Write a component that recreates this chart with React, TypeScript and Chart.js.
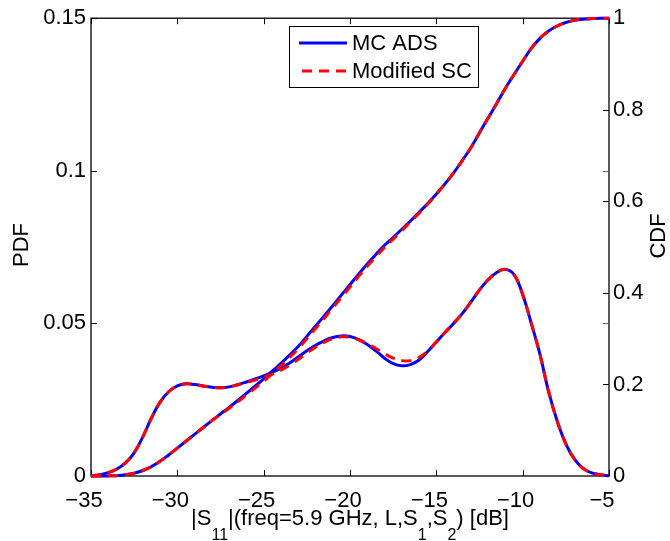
import React, { useEffect, useRef } from 'react';
import { Chart, registerables } from 'chart.js';

Chart.register(...registerables);

const FONT = '"Liberation Sans", Arial, Helvetica, sans-serif';

const xValues = [
  -35, -34.5, -34, -33.5, -33, -32.5, -32, -31.5, -31, -30.5,
  -30, -29.5, -29, -28.5, -28, -27.5, -27, -26.5, -26, -25.5,
  -25, -24.5, -24, -23.5, -23, -22.5, -22, -21.5, -21, -20.5,
  -20, -19.5, -19, -18.5, -18, -17.5, -17, -16.5, -16, -15.5,
  -15, -14.5, -14, -13.5, -13, -12.5, -12, -11.5, -11, -10.5,
  -10, -9.5, -9, -8.5, -8, -7.5, -7, -6.5, -6, -5.5, -5,
];

const pdfMcAds = [
  0.0000, 0.0004, 0.0011, 0.0023, 0.0043, 0.0076, 0.0128, 0.0190, 0.0242, 0.0276,
  0.0295, 0.0302, 0.0300, 0.0295, 0.0291, 0.0289, 0.0292, 0.0299, 0.0308, 0.0318,
  0.0328, 0.0340, 0.0353, 0.0370, 0.0390, 0.0410, 0.0428, 0.0443, 0.0454, 0.0459,
  0.0457, 0.0447, 0.0431, 0.0410, 0.0386, 0.0368, 0.0361, 0.0365, 0.0380, 0.0408,
  0.0439, 0.0470, 0.0500, 0.0532, 0.0570, 0.0610, 0.0643, 0.0667, 0.0677, 0.0660,
  0.0595, 0.0500, 0.0399, 0.0277, 0.0180, 0.0105, 0.0055, 0.0025, 0.0010, 0.0004, 0.0001,
];

const pdfModSc = [
  0.0000, 0.0004, 0.0011, 0.0023, 0.0043, 0.0076, 0.0128, 0.0190, 0.0242, 0.0276,
  0.0295, 0.0302, 0.0300, 0.0295, 0.0291, 0.0289, 0.0292, 0.0299, 0.0306, 0.0314,
  0.0323, 0.0334, 0.0347, 0.0363, 0.0382, 0.0403, 0.0422, 0.0438, 0.0450, 0.0456,
  0.0455, 0.0447, 0.0434, 0.0418, 0.0401, 0.0386, 0.0378, 0.0378, 0.0388, 0.0410,
  0.0439, 0.0470, 0.0500, 0.0532, 0.0570, 0.0610, 0.0643, 0.0667, 0.0677, 0.0660,
  0.0595, 0.0500, 0.0399, 0.0277, 0.0180, 0.0105, 0.0055, 0.0025, 0.0010, 0.0004, 0.0001,
];

const cdfMcAds = [
  0.0000, 0.0000, 0.0002, 0.0008, 0.0025, 0.0060, 0.0120, 0.0205, 0.0320, 0.0460,
  0.0610, 0.0760, 0.0910, 0.1060, 0.1210, 0.1355, 0.1500, 0.1650, 0.1805, 0.1960,
  0.2120, 0.2290, 0.2460, 0.2640, 0.2830, 0.3050, 0.3270, 0.3495, 0.3720, 0.3950,
  0.4180, 0.4410, 0.4630, 0.4840, 0.5040, 0.5210, 0.5390, 0.5570, 0.5760, 0.5950,
  0.6160, 0.6380, 0.6620, 0.6890, 0.7170, 0.7500, 0.7820, 0.8140, 0.8470, 0.8770,
  0.9060, 0.9340, 0.9560, 0.9720, 0.9830, 0.9905, 0.9952, 0.9978, 0.9991, 0.9998, 1.0000,
];

const cdfModSc = [
  0.0000, 0.0000, 0.0002, 0.0008, 0.0025, 0.0060, 0.0120, 0.0205, 0.0320, 0.0460,
  0.0610, 0.0760, 0.0910, 0.1060, 0.1210, 0.1345, 0.1480, 0.1620, 0.1770, 0.1920,
  0.2070, 0.2240, 0.2410, 0.2590, 0.2780, 0.3000, 0.3220, 0.3440, 0.3670, 0.3900,
  0.4130, 0.4360, 0.4580, 0.4790, 0.4995, 0.5175, 0.5360, 0.5550, 0.5740, 0.5940,
  0.6150, 0.6380, 0.6620, 0.6890, 0.7170, 0.7500, 0.7820, 0.8140, 0.8470, 0.8770,
  0.9060, 0.9340, 0.9560, 0.9720, 0.9830, 0.9905, 0.9952, 0.9978, 0.9991, 0.9998, 1.0000,
];

const seriesNames = ['MC ADS', 'Modified SC'];
const xTickValues = [-35, -30, -25, -20, -15, -10, -5];
const pdfTickValues = [0, 0.05, 0.1, 0.15];
const pdfTickLabels = ['0', '0.05', '0.1', '0.15'];
const cdfTickValues = [0, 0.2, 0.4, 0.6, 0.8, 1];
const cdfTickLabels = ['0', '0.2', '0.4', '0.6', '0.8', '1'];
const leftAxisTitle = 'PDF';
const rightAxisTitle = 'CDF';
// x title pieces: [text, isSubscript]
const xTitlePieces: [string, boolean][] = [
  ['|S', false], ['11', true], ['|(freq=5.9 GHz, L,S', false], ['1', true],
  [',S', false], ['2', true], [') [dB]', false],
];

const BLUE = '#0000ff';
const RED = '#ff0000';
const DASH = [10, 7];

const fmtX = (v: number) => String(v).replace('-', '\u2212');

const decorPlugin = {
  id: 'decor',
  beforeDatasetsDraw(chart: any) {
    const { ctx, chartArea, scales } = chart;
    const { left, right, top, bottom } = chartArea;
    ctx.save();
    ctx.strokeStyle = '#000';
    ctx.lineWidth = 1.3;
    ctx.strokeRect(left, top, right - left, bottom - top);
    const TL = 6;
    ctx.lineWidth = 1;
    ctx.beginPath();
    xTickValues.forEach((v) => {
      const px = Math.round(scales.x.getPixelForValue(v)) + 0.5;
      ctx.moveTo(px, bottom);
      ctx.lineTo(px, bottom - TL);
      ctx.moveTo(px, top);
      ctx.lineTo(px, top + TL);
    });
    pdfTickValues.forEach((v) => {
      const py = Math.round(scales.yPdf.getPixelForValue(v)) + 0.5;
      ctx.moveTo(left, py);
      ctx.lineTo(left + TL, py);
    });
    cdfTickValues.forEach((v) => {
      const py = Math.round(scales.yCdf.getPixelForValue(v)) + 0.5;
      ctx.moveTo(right, py);
      ctx.lineTo(right - TL, py);
    });
    ctx.stroke();
    ctx.strokeStyle = '#666';
    ctx.beginPath();
    pdfTickValues.forEach((v) => {
      const py = Math.round(scales.yPdf.getPixelForValue(v)) + 0.5;
      ctx.moveTo(right, py);
      ctx.lineTo(right - TL, py);
    });
    ctx.stroke();
    ctx.restore();
  },
  afterDatasetsDraw(chart: any) {
    const { ctx, chartArea } = chart;
    ctx.save();
    // legend
    const lx = 289, ly = 26, lw = 189, lh = 61;
    ctx.fillStyle = '#fff';
    ctx.fillRect(lx, ly, lw, lh);
    ctx.strokeStyle = '#000';
    ctx.lineWidth = 1;
    ctx.strokeRect(lx + 0.5, ly + 0.5, lw, lh);
    const rows = [43, 71];
    ctx.lineWidth = 3;
    ctx.strokeStyle = BLUE;
    ctx.beginPath();
    ctx.moveTo(299, rows[0]);
    ctx.lineTo(347, rows[0]);
    ctx.stroke();
    ctx.strokeStyle = RED;
    ctx.setLineDash(DASH);
    ctx.lineDashOffset = -3;
    ctx.beginPath();
    ctx.moveTo(299, rows[1]);
    ctx.lineTo(347, rows[1]);
    ctx.stroke();
    ctx.setLineDash([]);
    ctx.fillStyle = '#000';
    ctx.font = `22px ${FONT}`;
    ctx.textAlign = 'left';
    ctx.textBaseline = 'middle';
    ctx.fillText(seriesNames[0], 352, rows[0] + 1);
    ctx.fillText(seriesNames[1], 352, rows[1] + 1);

    // y axis titles
    ctx.textAlign = 'center';
    ctx.save();
    ctx.translate(22, 245);
    ctx.rotate(-Math.PI / 2);
    ctx.fillText(leftAxisTitle, 0, 0);
    ctx.restore();
    ctx.save();
    ctx.translate(659, 236);
    ctx.rotate(-Math.PI / 2);
    ctx.fillText(rightAxisTitle, 0, 0);
    ctx.restore();

    // x axis title with subscripts
    const mainFont = `22px ${FONT}`;
    const subFont = `16px ${FONT}`;
    let total = 0;
    const widths = xTitlePieces.map(([t, sub]) => {
      ctx.font = sub ? subFont : mainFont;
      const w = ctx.measureText(t).width;
      total += w;
      return w;
    });
    const cx = (chartArea.left + chartArea.right) / 2;
    let x = cx - total / 2;
    const base = 525;
    ctx.textAlign = 'left';
    ctx.textBaseline = 'alphabetic';
    xTitlePieces.forEach(([t, sub], i) => {
      ctx.font = sub ? subFont : mainFont;
      ctx.fillText(t, x, sub ? base + 15 : base);
      x += widths[i];
    });
    ctx.restore();
  },
};

export default function App() {
  const ref = useRef<HTMLCanvasElement>(null);
  useEffect(() => {
    document.body.style.margin = '0';
    const mk = (ys: number[]) => xValues.map((x, i) => ({ x, y: ys[i] }));
    const common = {
      pointRadius: 0,
      borderWidth: 3,
      fill: false,
      tension: 0.4,
      clip: 6,
    };
    const chart = new Chart(ref.current as HTMLCanvasElement, {
      type: 'line',
      data: {
        datasets: [
          { ...common, label: seriesNames[0], data: mk(pdfMcAds), yAxisID: 'yPdf', borderColor: BLUE, order: 2 },
          { ...common, label: seriesNames[0], data: mk(cdfMcAds), yAxisID: 'yCdf', borderColor: BLUE, order: 2 },
          { ...common, label: seriesNames[1], data: mk(pdfModSc), yAxisID: 'yPdf', borderColor: RED, borderDash: DASH, order: 1 },
          { ...common, label: seriesNames[1], data: mk(cdfModSc), yAxisID: 'yCdf', borderColor: RED, borderDash: DASH, order: 1 },
        ],
      },
      options: {
        responsive: false,
        maintainAspectRatio: false,
        animation: false,
        devicePixelRatio: 1,
        layout: { padding: { top: 15, left: 0, right: 0, bottom: 0 } },
        plugins: { legend: { display: false }, tooltip: { enabled: false } },
        scales: {
          x: {
            type: 'linear',
            position: 'bottom',
            min: -35,
            max: -5,
            grid: { display: false, drawTicks: false },
            border: { display: false },
            afterBuildTicks: (s: any) => { s.ticks = xTickValues.map((v) => ({ value: v })); },
            afterFit: (s: any) => { s.height = 65; },
            ticks: {
              color: '#000',
              font: { family: FONT, size: 22 },
              padding: 12,
              labelOffset: -7,
              maxRotation: 0,
              autoSkip: false,
              callback: (v: any) => fmtX(Number(v)),
            },
          },
          yPdf: {
            type: 'linear',
            position: 'left',
            min: 0,
            max: 0.15,
            grid: { display: false, drawTicks: false },
            border: { display: false },
            afterBuildTicks: (s: any) => { s.ticks = pdfTickValues.map((v) => ({ value: v })); },
            afterFit: (s: any) => { s.width = 91; },
            ticks: {
              color: '#000',
              font: { family: FONT, size: 22 },
              padding: 5,
              autoSkip: false,
              callback: (_v: any, i: number) => pdfTickLabels[i],
            },
          },
          yCdf: {
            type: 'linear',
            position: 'right',
            min: 0,
            max: 1,
            grid: { display: false, drawTicks: false },
            border: { display: false },
            afterBuildTicks: (s: any) => { s.ticks = cdfTickValues.map((v) => ({ value: v })); },
            afterFit: (s: any) => { s.width = 61; },
            ticks: {
              color: '#000',
              font: { family: FONT, size: 22 },
              padding: 4,
              autoSkip: false,
              callback: (_v: any, i: number) => cdfTickLabels[i],
            },
          },
        },
      },
      plugins: [decorPlugin],
    });
    return () => chart.destroy();
  }, []);
  return (
    <div style={{ position: 'absolute', left: 0, top: 0, width: 670, height: 541 }}>
      <canvas ref={ref} width={670} height={541} style={{ display: 'block' }} />
    </div>
  );
}
